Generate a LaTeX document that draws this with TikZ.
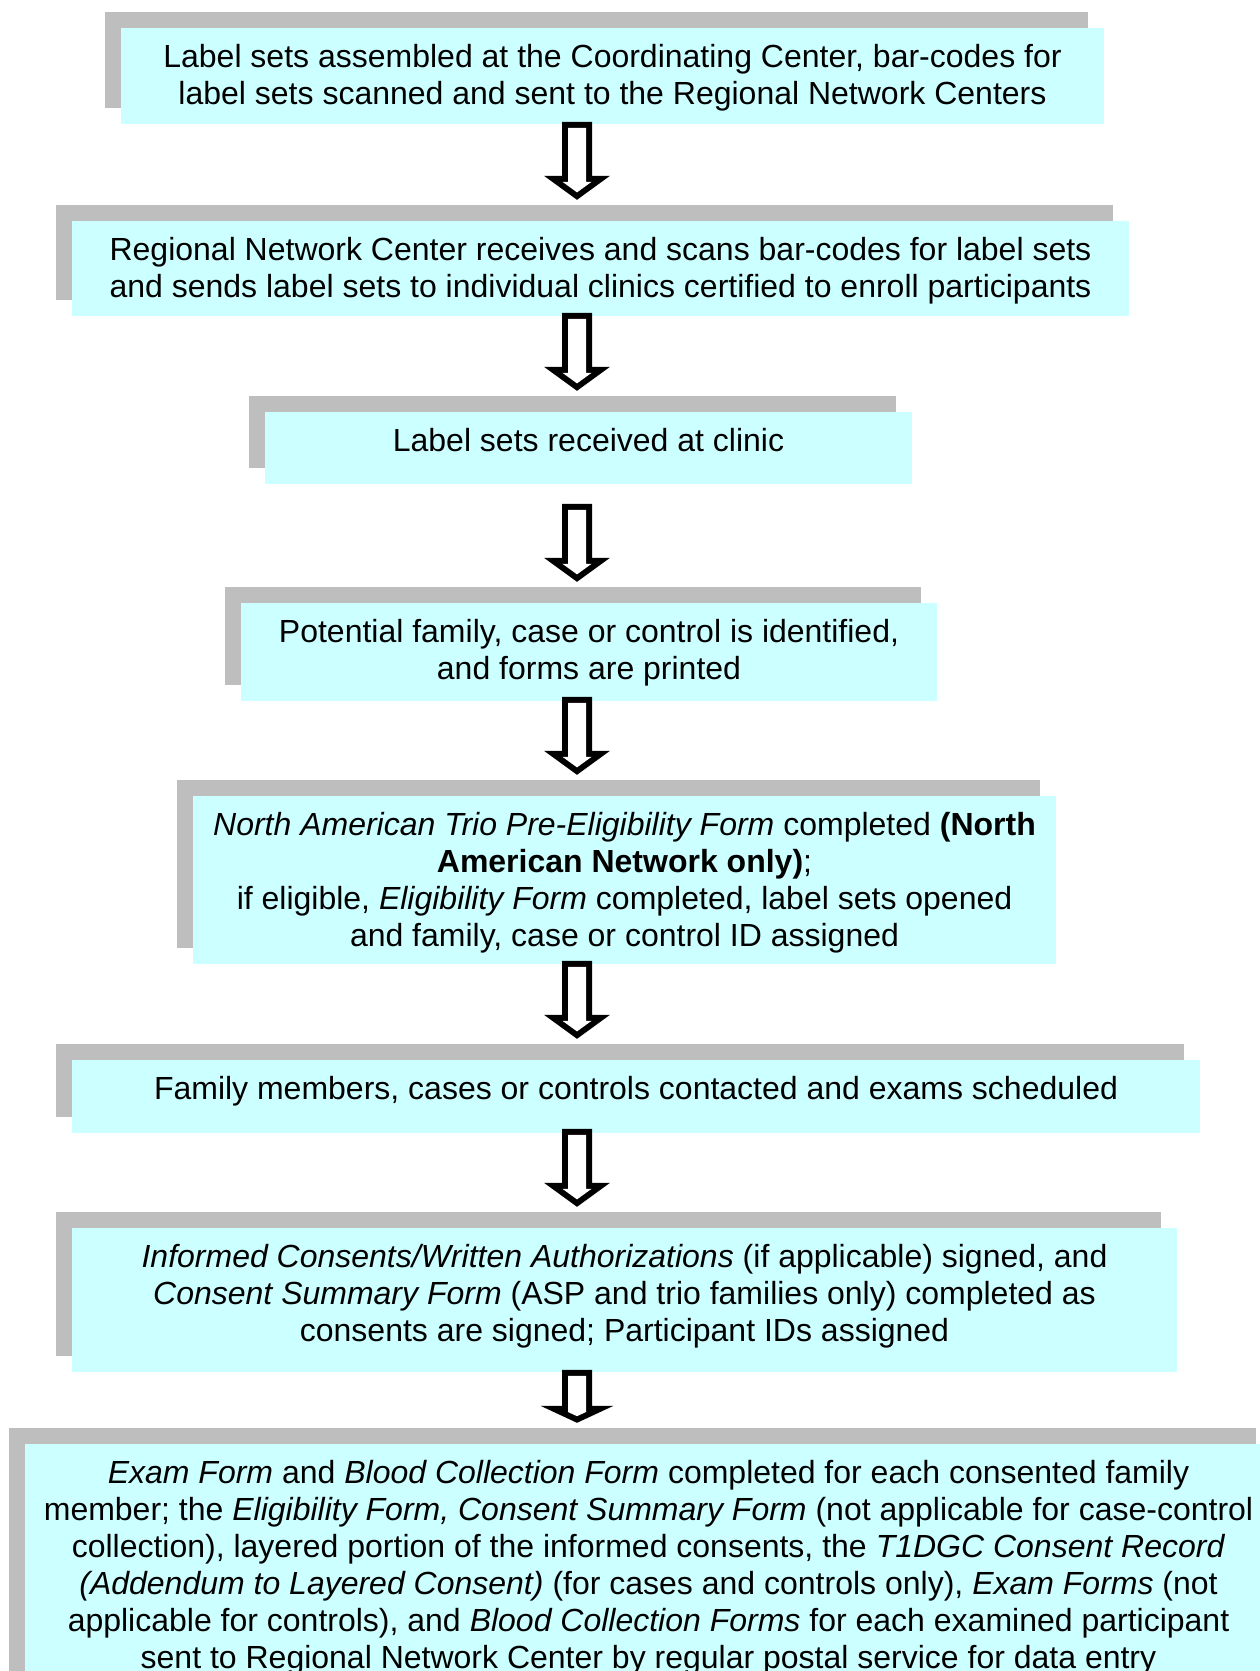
\documentclass[tikz,border=0pt]{standalone}
\usepackage{fontspec}
\setmainfont{Liberation Sans}
\usetikzlibrary{calc}
\definecolor{boxcyan}{HTML}{CCFFFF}
\definecolor{shadowgray}{HTML}{BEBEBE}
\tikzset{
  frontbox/.style={rectangle, fill=boxcyan, inner sep=0pt, draw=none},
  shadowbox/.style={rectangle, fill=shadowgray, inner sep=0pt, draw=none},
  txt/.style={align=center, inner sep=0pt, anchor=base, font=\fontsize{32}{37}\selectfont},
  arrowout/.style={fill=black},
  arrowin/.style={fill=white},
}
% name, cx, cy, w, h, number of lines, text
\newcommand\flowbox[7]{%
  \node[shadowbox, minimum width=#4pt, minimum height=#5pt] (#1s) at (#2-16,#3-16) {};
  \node[frontbox, minimum width=#4pt, minimum height=#5pt] (#1) at (#2,#3) {};
  \node[txt] (#1t) at ($(#1.north)+(0,{37*#6+3})$) {#7};
}
% from, to, L, H, W, inner top, inner head top, inner head x, inner tip
\newcommand\blockarrow[9]{%
  \coordinate (#2tip) at ($(ax |- #2s.north)+(0,-5)$);
  \begin{scope}[shift={(#2tip)}]
    \path[arrowout] (-15,-#3) -- (15,-#3) -- (15,-#4) -- (#5,-#4) -- (0,0) -- (-#5,-#4) -- (-15,-#4) -- cycle;
    \path[arrowin] (-9,-#6) -- (9,-#6) -- (9,-#7) -- (#8,-#7) -- (0,-#9) -- (-#8,-#7) -- (-9,-#7) -- cycle;
  \end{scope}
}
\begin{document}
\begin{tikzpicture}[x=1pt,y=-1pt]
\useasboundingbox (0,0) rectangle (1260,1671);
\clip (0,0) rectangle (1260,1671);
\coordinate (ax) at (577,0);

\flowbox{b1}{612.5}{76}{983}{96}{2}{Label sets assembled at the Coordinating Center, bar-codes for\\label sets scanned and sent to the Regional Network Centers}
\flowbox{b2}{600.5}{268.5}{1057}{95}{2}{Regional Network Center receives and scans bar-codes for label sets\\and sends label sets to individual clinics certified to enroll participants}
\blockarrow{b1}{b2}{78}{24}{33}{72}{18}{14.55}{7.42}
\flowbox{b3}{588.5}{448}{647}{72}{1}{Label sets received at clinic}
\blockarrow{b2}{b3}{78}{24}{33}{72}{18}{14.55}{7.42}
\flowbox{b4}{589}{652}{696}{98}{2}{Potential family, case or control is identified,\\and forms are printed}
\blockarrow{b3}{b4}{78}{24}{33}{72}{18}{14.55}{7.42}
\flowbox{b5}{624.5}{880}{863}{168}{4}{\textit{North American Trio Pre-Eligibility Form} completed \textbf{(North}\\\textbf{American Network only)};\\if eligible, \textit{Eligibility Form} completed, label sets opened\\and family, case or control ID assigned}
\blockarrow{b4}{b5}{78}{24}{33}{72}{18}{14.55}{7.42}
\flowbox{b6}{636}{1096.5}{1128}{73}{1}{Family members, cases or controls contacted and exams scheduled}
\blockarrow{b5}{b6}{78}{24}{33}{72}{18}{14.55}{7.42}
\flowbox{b7}{624.5}{1300}{1105}{144}{3}{\textit{Informed Consents/Written Authorizations} (if applicable) signed, and\\\textit{Consent Summary Form} (ASP and trio families only) completed as\\consents are signed; Participant IDs assigned}
\blockarrow{b6}{b7}{78}{24}{33}{72}{18}{14.55}{7.42}
\flowbox{b8}{648.5}{1582}{1247}{276}{6}{\textit{Exam Form} and \textit{Blood Collection Form} completed for each consented family\\member; the \textit{Eligibility Form, Consent Summary Form} (not applicable for case-control\\collection), layered portion of the informed consents, the \textit{T1DGC Consent Record}\\\textit{(Addendum to Layered Consent)} (for cases and controls only), \textit{Exam Forms} (not\\applicable for controls), and \textit{Blood Collection Forms} for each examined participant\\sent to Regional Network Center by regular postal service for data entry}
\blockarrow{b7}{b8}{53}{17}{36.5}{47}{11}{9.4}{6.62}
\end{tikzpicture}
\end{document}
